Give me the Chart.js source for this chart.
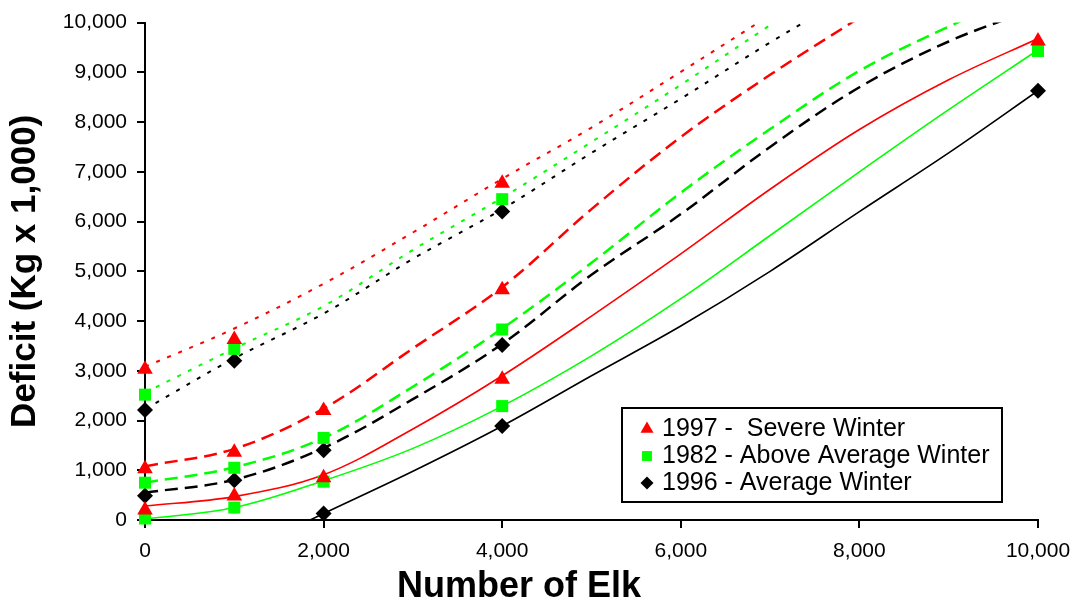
<!DOCTYPE html>
<html>
<head>
<meta charset="utf-8">
<title>Forage deficit by number of elk</title>
<script src="https://cdn.jsdelivr.net/npm/chart.js@4.4.1/dist/chart.umd.min.js"></script>
<style>
  html, body { margin: 0; padding: 0; background: #fff; }
  #wrap { width: 1077px; height: 605px; }
</style>
</head>
<body>
<div id="wrap"><canvas id="deficitChart" width="1077" height="605"></canvas></div>
<script>
  "use strict";

  // Observed deficits (Kg x 1,000) at these elk counts
  const markElk = [0, 1000, 2000, 4000, 10000];

  const severeDotMarks = [3030, 3630, null, 6770, null];
  const severeDashMarks = [1030, 1360, 2200, 4630, null];
  const severeSolidMarks = [200, 480, 850, 2830, 9630];

  const aboveDotMarks = [2520, 3440, null, 6450, null];
  const aboveDashMarks = [750, 1050, 1650, 3830, null];
  const aboveSolidMarks = [30, 250, 770, 2290, 9430];

  const avgDotMarks = [2210, 3200, null, 6200, null];
  const avgDashMarks = [490, 800, 1400, 3520, null];
  const avgSolidMarks = [null, null, 130, 1890, 8630];

  // Fitted curves, read every 1,000 elk
  const curveElk = [0, 1000, 2000, 3000, 4000, 5000, 6000, 7000, 8000, 9000, 10000];

  const severeDot = [3080, 3850, 4750, 5780, 6860, 7890, 9010, 10150];
  const severeDash = [1080, 1430, 2240, 3450, 4680, 6250, 7700, 8950, 10100];
  const severeSolid = [280, 470, 910, 1830, 2900, 4100, 5350, 6650, 7850, 8850, 9680];

  const aboveDot = [2560, 3450, 4300, 5430, 6480, 7600, 8750, 9950];
  const aboveDash = [750, 1060, 1650, 2680, 3850, 5170, 6580, 7860, 9030, 9920, 10700];
  const aboveSolid = [20, 250, 790, 1440, 2290, 3300, 4450, 5720, 7000, 8250, 9450];

  const avgDot = [2230, 3250, 4150, 5250, 6250, 7380, 8470, 9600, 10650];
  const avgDash = [550, 810, 1450, 2430, 3540, 4930, 6150, 7500, 8700, 9620, 10300];
  // the 1996 solid curve only leaves the axis near 1,850 elk
  const avgSolidElk = [1850, 2000, 3000, 4000, 5000, 6000, 7000, 8000, 9000, 10000];
  const avgSolid = [0, 130, 980, 1890, 2900, 3900, 5000, 6200, 7380, 8630];

  const yTicks = [0, 1000, 2000, 3000, 4000, 5000, 6000, 7000, 8000, 9000, 10000];
  const xTicks = [0, 2000, 4000, 6000, 8000, 10000];

  const winters = [
    { label: "1997 -  Severe Winter", color: "#FF0000", style: "triangle", radius: 9, legendRadius: 7.5,
      marks: [severeDotMarks, severeDashMarks, severeSolidMarks],
      curves: [[curveElk, severeDot], [curveElk, severeDash], [curveElk, severeSolid]] },
    { label: "1982 - Above Average Winter", color: "#00FF00", style: "rect", radius: 8.5, legendRadius: 7,
      marks: [aboveDotMarks, aboveDashMarks, aboveSolidMarks],
      curves: [[curveElk, aboveDot], [curveElk, aboveDash], [curveElk, aboveSolid]] },
    { label: "1996 - Average Winter", color: "#000000", style: "rectRot", radius: 8, legendRadius: 6.5,
      marks: [avgDotMarks, avgDashMarks, avgSolidMarks],
      curves: [[curveElk, avgDot], [curveElk, avgDash], [avgSolidElk, avgSolid]] }
  ];

  // line look for dotted / dashed / solid curve sets
  const curveLooks = [
    { width: 2, dash: [4, 8] },
    { width: 2.5, dash: [13, 7] },
    { width: 1.6, dash: [] }
  ];

  const FONT = "Arial, 'Liberation Sans', sans-serif";

  function toPoints(xs, ys) {
    const pts = [];
    ys.forEach(function (y, i) {
      if (y !== null && y !== undefined) pts.push({ x: xs[i], y: y });
    });
    return pts;
  }

  function buildDatasets() {
    const markSets = [];
    const lineSets = [];

    winters.forEach(function (w) {
      w.curves.forEach(function (c, i) {
        lineSets.push({
          label: w.label + " curve " + i,
          data: toPoints(c[0], c[1]),
          borderColor: w.color,
          borderWidth: curveLooks[i].width,
          borderDash: curveLooks[i].dash,
          tension: 0.35,
          pointRadius: 0,
          fill: false,
          order: 2
        });
      });

      let pts = [];
      w.marks.forEach(function (m) {
        pts = pts.concat(toPoints(markElk, m));
      });
      // markers sit on the axes too, so don't clip them
      markSets.push({
        label: w.label,
        data: pts,
        showLine: false,
        clip: false,
        pointStyle: w.style,
        pointRadius: w.radius,
        pointBackgroundColor: w.color,
        pointBorderWidth: 0,
        borderColor: w.color,
        order: 1
      });
    });

    return markSets.concat(lineSets);
  }

  // Boxed legend in the lower right of the plot
  const winterLegend = {
    id: "winterLegend",
    afterDraw: function (chart) {
      const ctx = chart.ctx;
      const area = chart.chartArea;
      const box = { left: area.right - 416, top: area.bottom - 112, width: 380, height: 94 };

      ctx.save();
      ctx.fillStyle = "#fff";
      ctx.fillRect(box.left, box.top, box.width, box.height);
      ctx.strokeStyle = "#000";
      ctx.lineWidth = 2;
      ctx.strokeRect(box.left, box.top, box.width, box.height);

      winters.forEach(function (w, i) {
        const y = box.top + 21 + i * 27;
        ctx.fillStyle = w.color;
        Chart.helpers.drawPoint(ctx, { pointStyle: w.style, radius: w.legendRadius, rotation: 0, borderWidth: 0 }, box.left + 25, y);
        ctx.fillStyle = "#000";
        ctx.font = "25px " + FONT;
        ctx.textBaseline = "middle";
        ctx.textAlign = "left";
        ctx.fillText(w.label, box.left + 40, y);
      });
      ctx.restore();
    }
  };

  function axisTicks(values) {
    return function (scale) {
      scale.ticks = values.map(function (v) { return { value: v }; });
    };
  }

  function commaLabel(v) {
    return Number(v).toLocaleString("en-US");
  }

  new Chart(document.getElementById("deficitChart"), {
    type: "line",
    data: { datasets: buildDatasets() },
    plugins: [winterLegend],
    options: {
      responsive: false,
      animation: false,
      layout: { padding: { top: 20, right: 39, left: 0, bottom: 0 } },
      plugins: {
        legend: { display: false },
        tooltip: { enabled: false },
        title: {
          display: true,
          position: "bottom",
          text: "Number of Elk",
          color: "#000",
          font: { family: FONT, size: 36, weight: "bold", lineHeight: 1 },
          padding: 0
        }
      },
      scales: {
        x: {
          type: "linear",
          min: 0,
          max: 10000,
          afterBuildTicks: axisTicks(xTicks),
          afterFit: function (s) {
            s.height = 49;
            s.paddingLeft = 0;
            s.paddingRight = 0;
          },
          ticks: {
            color: "#000",
            font: { family: FONT, size: 21 },
            padding: 11,
            maxRotation: 0,
            autoSkip: false,
            callback: commaLabel
          },
          grid: { drawOnChartArea: false, drawTicks: true, tickLength: 8, color: "#000", lineWidth: 2 },
          border: { color: "#000", width: 2 }
        },
        y: {
          min: 0,
          max: 10000,
          afterBuildTicks: axisTicks(yTicks),
          afterFit: function (s) { s.width = 145; },
          ticks: {
            color: "#000",
            font: { family: FONT, size: 21 },
            padding: 10,
            autoSkip: false,
            callback: commaLabel
          },
          grid: { drawOnChartArea: false, drawTicks: true, tickLength: 8, color: "#000", lineWidth: 2 },
          border: { color: "#000", width: 2 },
          title: {
            display: true,
            text: "Deficit (Kg x 1,000)",
            color: "#000",
            font: { family: FONT, size: 35, weight: "bold" },
            padding: { top: 4, bottom: 0 }
          }
        }
      }
    }
  });
</script>
</body>
</html>
